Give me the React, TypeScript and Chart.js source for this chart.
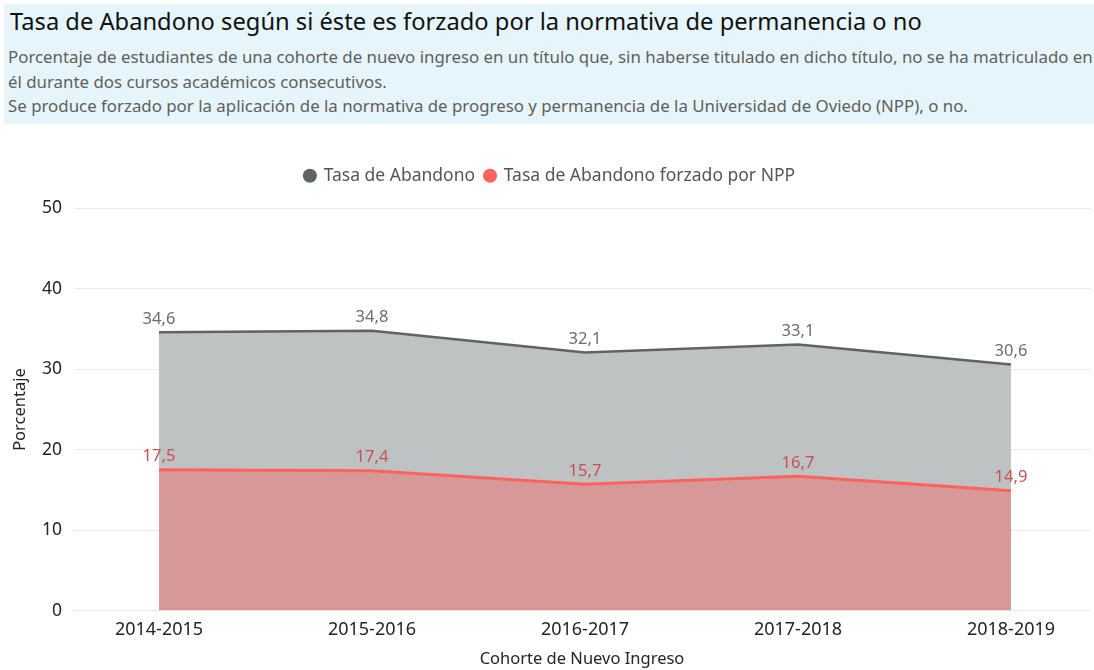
import { useEffect, useRef } from 'react';
import { Chart, registerables } from 'chart.js';

Chart.register(...registerables);

const categories = ['2014-2015', '2015-2016', '2016-2017', '2017-2018', '2018-2019'];
const tasaAbandono = [34.6, 34.8, 32.1, 33.1, 30.6];
const tasaForzadoNPP = [17.5, 17.4, 15.7, 16.7, 14.9];
const yTickValues = [0, 10, 20, 30, 40, 50];
const seriesNames = ['Tasa de Abandono', 'Tasa de Abandono forzado por NPP'];

const FONT = '"Noto Sans", "Open Sans", sans-serif';

const labelColors = ['#6a6e70', '#c8504f'];

const dataLabelPlugin = {
  id: 'dataLabels',
  afterDatasetsDraw(chart: any) {
    const ctx = chart.ctx;
    ctx.save();
    ctx.font = `16.5px ${FONT}`;
    ctx.textAlign = 'center';
    ctx.textBaseline = 'bottom';
    chart.data.datasets.forEach((ds: any, i: number) => {
      const meta = chart.getDatasetMeta(i);
      meta.data.forEach((pt: any, j: number) => {
        const v = ds.data[j].y;
        ctx.fillStyle = labelColors[i];
        ctx.fillText(v.toFixed(1).replace('.', ','), pt.x, pt.y - 5);
      });
    });
    ctx.restore();
  },
};

const legendSpacingPlugin = {
  id: 'legendSpacing',
  beforeInit(chart: any) {
    const legend = chart.legend;
    if (!legend) return;
    const origFit = legend.fit;
    legend.fit = function () {
      origFit.call(this);
      this.height += 14;
    };
  },
};

export default function App() {
  const canvasRef = useRef<HTMLCanvasElement | null>(null);

  useEffect(() => {
    document.body.style.margin = '0';
    const canvas = canvasRef.current;
    if (!canvas) return;
    const chart = new Chart(canvas, {
      type: 'line',
      data: {
        datasets: [
          {
            label: seriesNames[0],
            data: tasaAbandono.map((y, x) => ({ x, y })),
            borderColor: '#5c6466',
            backgroundColor: '#bec2c2',
            borderWidth: 2.5,
            pointRadius: 0,
            fill: '+1',
            tension: 0,
          },
          {
            label: seriesNames[1],
            data: tasaForzadoNPP.map((y, x) => ({ x, y })),
            borderColor: '#fd625e',
            backgroundColor: '#d79899',
            borderWidth: 3,
            pointRadius: 0,
            fill: 'origin',
            tension: 0,
          },
        ],
      },
      options: {
        animation: false,
        responsive: false,
        maintainAspectRatio: false,
        layout: { padding: { top: 17, right: 4, left: 10, bottom: 0 } },
        plugins: {
          tooltip: { enabled: false },
          filler: { drawTime: 'beforeDatasetsDraw' },
          legend: {
            position: 'top',
            align: 'center',
            labels: {
              usePointStyle: true,
              pointStyle: 'circle',
              boxWidth: 10,
              boxHeight: 10,
              padding: 10,
              color: '#555555',
              font: { family: FONT, size: 17.5 },
              generateLabels: (c: any) =>
                c.data.datasets.map((ds: any, i: number) => ({
                  text: ds.label,
                  fillStyle: ds.borderColor,
                  strokeStyle: ds.borderColor,
                  lineWidth: 0,
                  pointStyle: 'circle',
                  datasetIndex: i,
                  fontColor: '#555555',
                })),
            },
          },
        },
        scales: {
          x: {
            type: 'linear',
            min: -0.399,
            max: 4.371,
            grid: { display: false, drawTicks: false },
            border: { display: false },
            afterBuildTicks: (scale: any) => {
              scale.ticks = categories.map((_, i) => ({ value: i }));
            },
            ticks: {
              color: '#252423',
              font: { family: FONT, size: 18 },
              padding: 8,
              maxRotation: 0,
              autoSkip: false,
              callback: (v: any) => categories[v as number] ?? '',
            },
            title: {
              display: true,
              text: 'Cohorte de Nuevo Ingreso',
              color: '#252423',
              font: { family: FONT, size: 16.5 },
              padding: { top: 1, bottom: 1 },
            },
          },
          y: {
            min: 0,
            max: 50,
            afterBuildTicks: (scale: any) => {
              scale.ticks = yTickValues.map((v) => ({ value: v }));
            },
            afterFit: (scale: any) => {
              scale.width = 64;
            },
            grid: { color: '#e9e9e9', lineWidth: 1, drawTicks: false },
            border: { display: false },
            ticks: {
              color: '#252423',
              font: { family: FONT, size: 17.5 },
              padding: 12,
            },
            title: {
              display: true,
              text: 'Porcentaje',
              color: '#252423',
              font: { family: FONT, size: 16.5 },
              padding: { top: 0, bottom: 0 },
            },
          },
        },
      },
      plugins: [dataLabelPlugin, legendSpacingPlugin],
    });
    return () => chart.destroy();
  }, []);

  return (
    <div style={{ position: 'relative', width: 1094, height: 670, background: '#ffffff', overflow: 'hidden' }}>
      <div
        style={{
          position: 'absolute',
          left: 4,
          top: 4,
          width: 1090,
          height: 120,
          background: '#e6f5fb',
          fontFamily: FONT,
          overflow: 'hidden',
        }}
      >
        <div style={{ position: 'absolute', left: 6, top: 1, fontSize: 23.7, color: '#111111', whiteSpace: 'nowrap' }}>
          Tasa de Abandono según si éste es forzado por la normativa de permanencia o no
        </div>
        <div
          style={{
            position: 'absolute',
            left: 4,
            top: 41,
            fontSize: 16.85,
            lineHeight: '24.5px',
            color: '#605e5c',
            whiteSpace: 'nowrap',
          }}
        >
          <div>Porcentaje de estudiantes de una cohorte de nuevo ingreso en un título que, sin haberse titulado en dicho título, no se ha matriculado en</div>
          <div>él durante dos cursos académicos consecutivos.</div>
          <div>Se produce forzado por la aplicación de la normativa de progreso y permanencia de la Universidad de Oviedo (NPP), o no.</div>
        </div>
      </div>
      <canvas
        ref={canvasRef}
        width={1094}
        height={530}
        style={{ position: 'absolute', left: 0, top: 140, width: 1094, height: 530 }}
      />
    </div>
  );
}
